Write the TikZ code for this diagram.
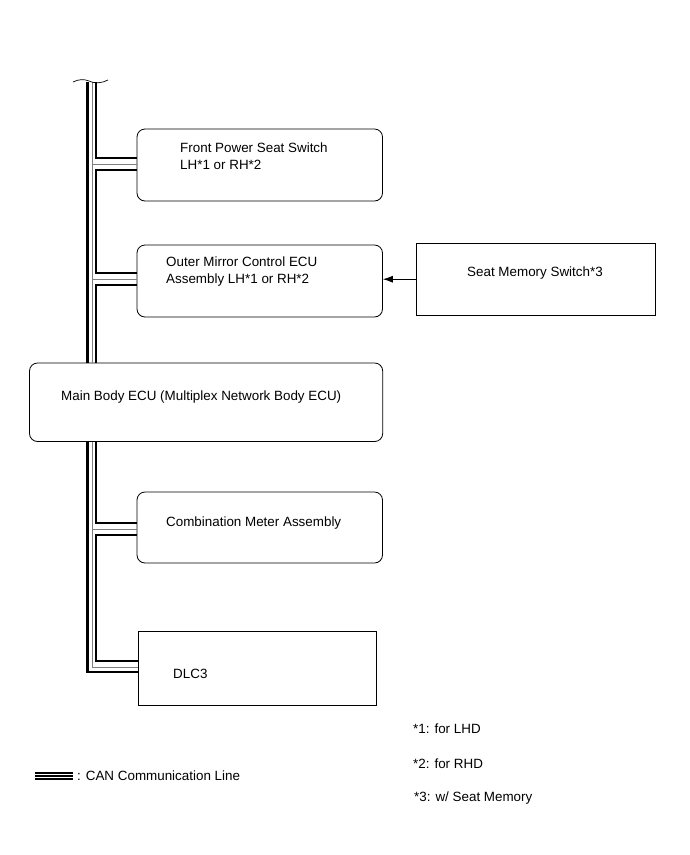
\documentclass[tikz,border=0pt]{standalone}
\usepackage{fontspec}
\setmainfont{Liberation Sans}
\usetikzlibrary{arrows.meta,calc}
\tikzset{>={Latex[length=10pt,width=7pt]}}
\tikzset{
  ecubox/.style={draw,rounded corners=8pt,line width=0.8pt,inner sep=0pt},
  plainbox/.style={draw,line width=0.8pt,inner sep=0pt},
  boxtext/.style={anchor=base west,inner sep=0pt,font=\fontsize{13.4}{17}\selectfont},
  canouter/.style={line width=2.2pt},
  cangray/.style={line width=1pt,color=gray},
  caninner/.style={line width=1.8pt},
}

\begin{document}
\begin{tikzpicture}[x=1pt,y=-1pt]
\useasboundingbox (0,0) rectangle (690,855);

% boxes
\node [ecubox,minimum width=245.5pt,minimum height=72pt] (fps) at (259.75,165) {};
\node [ecubox,minimum width=245.5pt,minimum height=72pt] (mirror) at (259.75,281) {};
\node [plainbox,minimum width=238.5pt,minimum height=71.7pt] (memory) at (535.75,279.2) {};
\node [ecubox,minimum width=353.2pt,minimum height=78.5pt] (main) at (206.1,402.25) {};
\node [ecubox,minimum width=245.5pt,minimum height=71pt] (meter) at (259.75,527.5) {};
\node [plainbox,minimum width=238pt,minimum height=74pt] (dlc) at (257,668) {};

% box texts
\node [boxtext] (fpsA) at (180,152.5) {Front Power Seat Switch};
\node [boxtext] (fpsB) at (180,169) {LH*1 or RH*2};
\node [boxtext] (mirrorA) at (166,266) {Outer Mirror Control ECU};
\node [boxtext] (mirrorB) at (166,283) {Assembly LH*1 or RH*2};
\node [boxtext] (memoryA) at (467,276.5) {Seat Memory Switch*3};
\node [boxtext] (mainA) at (61,400) {Main Body ECU (Multiplex Network Body ECU)};
\node [boxtext] (meterA) at (166,526) {Combination Meter Assembly};
\node [boxtext] (dlcA) at (173,678) {DLC3};

% notes
\node [boxtext] (noteA) at (413,733) {*1: for LHD};
\node [boxtext] (noteB) at (413,768) {*2: for RHD};
\node [boxtext] (noteC) at (414,801.5) {*3: w/ Seat Memory};
\node [boxtext] (legend) at (77,780) {: CAN Communication Line};

\draw[->,line width=0.8pt] (memory.west) to (memory.west -| mirror.east);

% CAN bus
\coordinate (busO) at (87.5,82);
\coordinate (busG) at (92.3,82);
\coordinate (busI) at (95.8,82);

\draw[canouter] (busO) -- (busO |- main.north);
\draw[canouter] (busO |- main.south) -- (87.5,672) -- (dlc.west |- 0,672);

\draw[cangray] (busG) -- (busG |- main.north);
\draw[cangray] (busG |- main.south) -- (92.3,667) -- (dlc.west |- 0,667);
\draw[cangray] (92.3,164) -- (fps.west |- 0,164);
\draw[cangray] (92.3,279.3) -- (mirror.west |- 0,279.3);
\draw[cangray] (92.3,529.3) -- (meter.west |- 0,529.3);

\draw[caninner] (busI) -- (95.8,158) -- (fps.west |- 0,158);
\draw[caninner] (fps.west |- 0,170) -- (95.8,170) -- (95.8,273.3) -- (mirror.west |- 0,273.3);
\draw[caninner] (mirror.west |- 0,285.3) -- (95.8,285.3) -- (busI |- main.north);
\draw[caninner] (busI |- main.south) -- (95.8,523.3) -- (meter.west |- 0,523.3);
\draw[caninner] (meter.west |- 0,535.3) -- (95.8,535.3) -- (95.8,661) -- (dlc.west |- 0,661);

% break mark
\draw[line width=0.7pt] (73,82) .. controls (79,79) and (84,79) .. (89,81) .. controls (96,84) and (102,83) .. (108,80);

% legend symbol
\draw[line width=1.7pt] (35,772.7) -- (73,772.7);
\draw[line width=1.7pt] (35,776) -- (73,776);
\draw[line width=1.7pt] (35,779.3) -- (73,779.3);

\end{tikzpicture}
\end{document}
